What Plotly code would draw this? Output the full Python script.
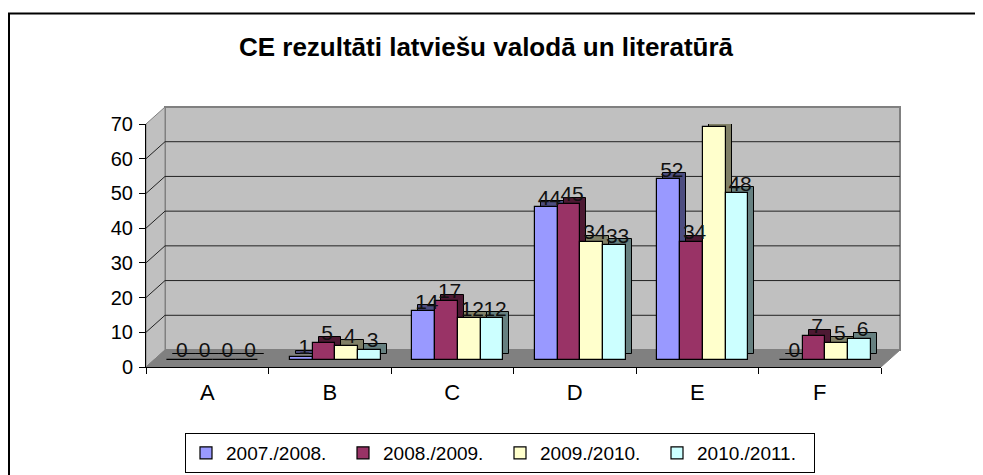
import plotly.graph_objects as go

# ---------------- data ----------------
categories = ["A", "B", "C", "D", "E", "F"]
series_names = ["2007./2008.", "2008./2009.", "2009./2010.", "2010./2011."]
s2007 = [0, 1, 14, 44, 52, 0]
s2008 = [0, 5, 17, 45, 34, 7]
s2009 = [0, 4, 12, 34, 67, 5]
s2010 = [0, 3, 12, 33, 48, 6]
y_ticks = [0, 10, 20, 30, 40, 50, 60, 70]

series_values = [s2007, s2008, s2009, s2010]
front_colors = ["#9999FF", "#993366", "#FFFFCC", "#CCFFFF"]
side_colors = ["#4D4D80", "#4D1933", "#808066", "#668080"]

# ---------------- geometry (pixels of the screenshot) ----------------
OFF = 8                                  # page body margin in the browser
W, H = 983, 475
L, R, T, B = 146 - OFF, 881 - OFF, 124 - OFF, 367 - OFF   # front plane in figure px
PW, PH = R - L, B - T
YMAX = 70
DEPTH_X, DEPTH_Y = 19, 17
dxp, dyp = DEPTH_X / PW, DEPTH_Y / PH
ncat = len(categories)
unit_x = PW / ncat
unit_y = PH / YMAX

BASE = 7 / unit_y
GROUP_LEFT = -0.325
BAR_W = 0.1857
SIDE_X = 6 / unit_x
SIDE_Y = 6 / unit_y
LABEL_LIFT = 8 / unit_y

FONT = "Liberation Sans, Arial, sans-serif"

fig = go.Figure()

for i, vals in enumerate(series_values):
    xs = [k + GROUP_LEFT + (i + 0.5) * BAR_W + SIDE_X for k in range(ncat)]
    fig.add_trace(go.Bar(
        x=xs, y=vals, base=[BASE + SIDE_Y] * ncat, width=BAR_W,
        marker=dict(color=side_colors[i], line=dict(color="black", width=1)),
        showlegend=False, hoverinfo="skip"))

for i, vals in enumerate(series_values):
    xs = [k + GROUP_LEFT + (i + 0.5) * BAR_W for k in range(ncat)]
    fig.add_trace(go.Bar(
        x=xs, y=vals, base=[BASE] * ncat, width=BAR_W, name=series_names[i],
        marker=dict(color=front_colors[i], line=dict(color="black", width=1.2)),
        hovertemplate=series_names[i] + ": %{y}<extra></extra>"))

for i, vals in enumerate(series_values):
    xs = [k + GROUP_LEFT + (i + 0.5) * BAR_W + SIDE_X / 2 for k in range(ncat)]
    fig.add_trace(go.Scatter(
        x=xs, y=[BASE + v + LABEL_LIFT for v in vals], mode="text",
        text=[str(v) for v in vals], textposition="middle center",
        textfont=dict(family=FONT, size=21, color="#111111"),
        showlegend=False, hoverinfo="skip", cliponaxis=False))

shapes = []
wall = "#C0C0C0"
edge = "#808080"
shapes.append(dict(type="rect", xref="paper", yref="paper",
                   x0=dxp, x1=1 + dxp, y0=dyp, y1=1 + dyp,
                   fillcolor=wall, line=dict(color=edge, width=2), layer="below"))
shapes.append(dict(type="path", xref="paper", yref="paper",
                   path=f"M0,0 L{dxp},{dyp} L{dxp},{1 + dyp} L0,1 Z",
                   fillcolor=wall, line=dict(color=edge, width=1), layer="below"))
shapes.append(dict(type="path", xref="paper", yref="paper",
                   path=f"M0,0 L1,0 L{1 + dxp},{dyp} L{dxp},{dyp} Z",
                   fillcolor="#808080", line=dict(color="#808080", width=1), layer="below"))
for v in y_ticks[1:-1]:
    yv = v / YMAX
    shapes.append(dict(type="line", xref="paper", yref="paper",
                       x0=dxp, x1=1 + dxp, y0=yv + dyp, y1=yv + dyp,
                       line=dict(color="#222222", width=1), layer="below"))
    shapes.append(dict(type="line", xref="paper", yref="paper",
                       x0=0, x1=dxp, y0=yv, y1=yv + dyp,
                       line=dict(color="#222222", width=1), layer="below"))
shapes.append(dict(type="rect", xref="paper", yref="paper",
                   x0=(9 - OFF - L) / PW, x1=(W + 20 - L) / PW,
                   y0=(B - (H + 20)) / PH, y1=(B - (13.5 - OFF)) / PH,
                   fillcolor="rgba(0,0,0,0)", line=dict(color="black", width=2)))

fig.update_layout(
    width=W, height=H,
    margin=dict(l=L, r=W - R, t=T, b=H - B),
    paper_bgcolor="white", plot_bgcolor="rgba(0,0,0,0)",
    barmode="overlay", bargap=0,
    font=dict(family=FONT, size=18, color="black"),
    title=dict(text="<b>CE rezultāti latviešu valodā un literatūrā</b>",
               x=(486 - OFF) / W, xref="container", xanchor="center",
               y=1 - (47 - OFF) / H, yref="container", yanchor="middle",
               font=dict(family=FONT, size=26, color="black")),
    xaxis=dict(range=[-0.5, ncat - 0.5], tickvals=list(range(ncat)), ticktext=categories,
               ticks="", showgrid=False, zeroline=False,
               showline=True, linecolor="black", linewidth=1,
               tickfont=dict(size=22), ticklabelstandoff=6,
               minor=dict(tickvals=[k - 0.5 for k in range(ncat + 1)], ticks="outside",
                          ticklen=6, tickcolor="black", showgrid=False)),
    yaxis=dict(range=[0, YMAX], tickvals=y_ticks, ticks="outside", ticklen=6,
               tickcolor="black", showgrid=False, zeroline=False,
               showline=True, linecolor="black", linewidth=1,
               tickfont=dict(size=20), ticklabelstandoff=2),
    legend=dict(orientation="h", x=(500 - OFF) / W, xref="container", xanchor="center",
                y=(H - (433 - OFF)) / H, yref="container", yanchor="top",
                bordercolor="black", borderwidth=1, bgcolor="white",
                font=dict(size=19), traceorder="normal",
                entrywidth=112, entrywidthmode="pixels", itemwidth=30),
    shapes=shapes,
)

fig.write_html("out.html")
